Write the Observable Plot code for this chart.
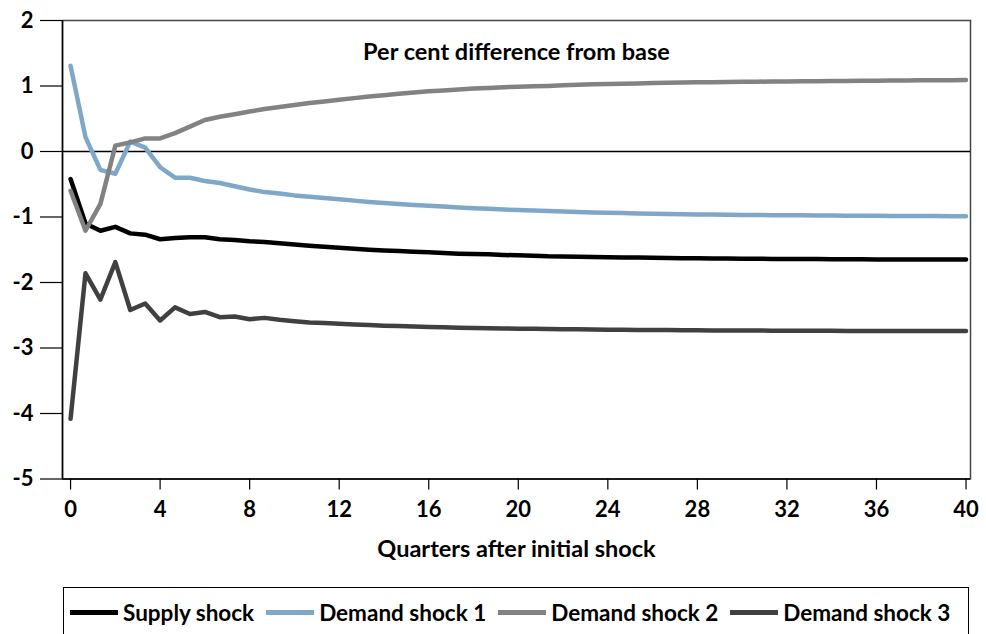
<!DOCTYPE html>
<html>
<head>
<meta charset="utf-8">
<script src="https://cdn.jsdelivr.net/npm/d3@7"></script>
<script src="https://cdn.jsdelivr.net/npm/@observablehq/plot@0.6"></script>
<style>
  html, body { margin: 0; padding: 0; background: #fff; overflow: hidden; }
  #wrap { position: relative; width: 986px; height: 634px; font-family: Lato, "Open Sans", sans-serif; }
  #legend { position: absolute; left: 63px; top: 587px; width: 906px; height: 60px; border: 1.5px solid #000; box-sizing: border-box;
    display: flex; align-items: flex-start; padding-top: 11px; padding-left: 6px; font-weight: bold; font-size: 22.5px; color: #000; }
  .item { display: flex; align-items: center; margin-right: 12px; white-space: nowrap; }
  .sw { width: 48px; height: 4.5px; margin-right: 5px; }
</style>
</head>
<body>
<div id="wrap"><div id="chart"></div><div id="legend"></div></div>
<script>
// Series names, colours and values (per cent difference from base); 61 observations over 40 quarters
const seriesNames = ["Supply shock", "Demand shock 1", "Demand shock 2", "Demand shock 3"];
const seriesColors = ["#000000", "#7fa7c8", "#828282", "#404040"];

const supply = [-0.42,-1.10,-1.21,-1.15,-1.25,-1.27,-1.34,-1.32,-1.31,-1.31,
  -1.34,-1.35,-1.37,-1.38,-1.40,-1.42,-1.44,-1.455,-1.47,-1.485,
  -1.50,-1.51,-1.52,-1.53,-1.54,-1.55,-1.56,-1.565,-1.57,-1.58,
  -1.585,-1.59,-1.60,-1.603,-1.607,-1.61,-1.615,-1.618,-1.62,-1.623,
  -1.625,-1.628,-1.63,-1.632,-1.634,-1.636,-1.638,-1.64,-1.641,-1.642,
  -1.643,-1.644,-1.645,-1.646,-1.647,-1.648,-1.648,-1.649,-1.65,-1.65,
  -1.65];
const demand1 = [1.31,0.22,-0.28,-0.34,0.15,0.06,-0.24,-0.40,-0.40,-0.45,
  -0.48,-0.53,-0.58,-0.62,-0.64,-0.67,-0.69,-0.71,-0.73,-0.75,
  -0.77,-0.785,-0.80,-0.815,-0.83,-0.84,-0.855,-0.865,-0.875,-0.885,
  -0.895,-0.90,-0.91,-0.915,-0.925,-0.93,-0.935,-0.94,-0.945,-0.95,
  -0.953,-0.957,-0.96,-0.963,-0.966,-0.968,-0.97,-0.972,-0.974,-0.975,
  -0.977,-0.978,-0.98,-0.981,-0.982,-0.983,-0.984,-0.985,-0.986,-0.987,
  -0.988];
const demand2 = [-0.60,-1.21,-0.80,0.09,0.14,0.20,0.20,0.28,0.38,0.48,
  0.53,0.57,0.61,0.65,0.68,0.71,0.74,0.765,0.79,0.815,
  0.84,0.86,0.88,0.90,0.92,0.93,0.945,0.96,0.97,0.98,
  0.99,0.995,1.00,1.01,1.02,1.025,1.03,1.035,1.04,1.045,
  1.05,1.053,1.056,1.058,1.06,1.063,1.066,1.068,1.07,1.072,
  1.074,1.076,1.078,1.08,1.082,1.083,1.085,1.086,1.087,1.088,
  1.09];
const demand3 = [-4.08,-1.86,-2.26,-1.69,-2.42,-2.32,-2.58,-2.38,-2.48,-2.45,
  -2.53,-2.52,-2.56,-2.54,-2.57,-2.59,-2.61,-2.62,-2.63,-2.64,
  -2.65,-2.66,-2.665,-2.67,-2.68,-2.685,-2.69,-2.695,-2.70,-2.702,
  -2.705,-2.708,-2.71,-2.712,-2.715,-2.718,-2.72,-2.722,-2.724,-2.725,
  -2.727,-2.728,-2.73,-2.731,-2.732,-2.733,-2.734,-2.735,-2.736,-2.737,
  -2.738,-2.738,-2.739,-2.739,-2.74,-2.74,-2.741,-2.741,-2.742,-2.742,
  -2.742];

const xTicks = [0, 4, 8, 12, 16, 20, 24, 28, 32, 36, 40];
const yTicks = [2, 1, 0, -1, -2, -3, -4, -5];
const chartTitle = "Per cent difference from base";
const xTitle = "Quarters after initial shock";
const lastQuarter = 40;

const allSeries = [supply, demand1, demand2, demand3];
const rows = [];
allSeries.forEach((vals, s) => {
  vals.forEach((v, i) => rows.push({series: seriesNames[s], q: i * lastQuarter / (vals.length - 1), v}));
});

const chart = Plot.plot({
  width: 986,
  height: 580,
  marginLeft: 62,
  marginRight: 16,
  marginTop: 20,
  marginBottom: 101.5,
  x: {domain: [-0.36, 40.2]},
  y: {domain: [-5, 2]},
  color: {domain: seriesNames, range: seriesColors},
  style: {fontFamily: "Lato, 'Open Sans', sans-serif", fontSize: "22px", fontWeight: "bold", color: "#000", background: "#fff", overflow: "visible"},
  marks: [
    Plot.frame({stroke: "#444", strokeWidth: 1.5}),
    Plot.ruleY([0], {stroke: "#000", strokeWidth: 1.5}),
    Plot.line(rows, {x: "q", y: "v", z: "series", stroke: "series", strokeWidth: 4.5, strokeLinejoin: "round", strokeLinecap: "round"}),
    Plot.axisX({ticks: xTicks, tickSize: 11, tickPadding: 11, label: null, tickFormat: d => String(d), stroke: "#000", strokeWidth: 1.2}),
    Plot.axisY({ticks: yTicks, tickSize: 22, tickPadding: 7, label: null, tickFormat: d => String(d), stroke: "#000", strokeWidth: 1.2}),
    Plot.ruleX([-0.36], {stroke: "#000", strokeWidth: 1.5}),
    Plot.ruleY([-5], {stroke: "#000", strokeWidth: 1.5}),
    Plot.text([chartTitle], {frameAnchor: "top", dy: 23, fontSize: 23.5, fontWeight: "bold"}),
    Plot.text([xTitle], {frameAnchor: "bottom", dy: 78, fontSize: 23.5, fontWeight: "bold"})
  ]
});
document.getElementById("chart").appendChild(chart);

const legend = document.getElementById("legend");
seriesNames.forEach((n, i) => {
  const it = document.createElement("div");
  it.className = "item";
  const sw = document.createElement("div");
  sw.className = "sw";
  sw.style.background = seriesColors[i];
  const t = document.createElement("span");
  t.textContent = n;
  it.appendChild(sw);
  it.appendChild(t);
  legend.appendChild(it);
});
</script>
</body>
</html>
